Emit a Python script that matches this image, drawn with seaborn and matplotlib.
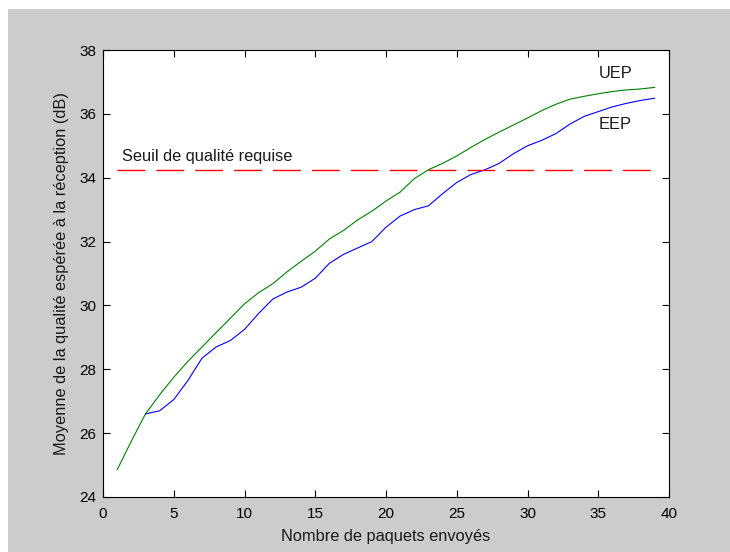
import matplotlib
matplotlib.use('Agg')
from matplotlib import pyplot as plt
from matplotlib.patches import Rectangle
import seaborn as sns

# Values
uep_x = [1, 2, 3, 4, 5, 6, 7, 8, 9, 10, 11, 12, 13, 14, 15, 16, 17, 18, 19, 20,
         21, 22, 23, 24, 25, 26, 27, 28, 29, 30, 31, 32, 33, 34, 35, 36, 37, 38, 39]
uep_y = [24.85, 25.75, 26.6, 27.2, 27.75, 28.25, 28.7, 29.15, 29.6, 30.05,
         30.4, 30.68, 31.05, 31.38, 31.7, 32.08, 32.35, 32.68, 32.95, 33.27,
         33.55, 33.97, 34.25, 34.45, 34.68, 34.95, 35.2, 35.43, 35.65, 35.87,
         36.1, 36.3, 36.46, 36.55, 36.63, 36.7, 36.75, 36.78, 36.83]

eep_x = [3, 4, 5, 6, 7, 8, 9, 10, 11, 12, 13, 14, 15, 16, 17, 18, 19, 20,
         21, 22, 23, 24, 25, 26, 27, 28, 29, 30, 31, 32, 33, 34, 35, 36, 37, 38, 39]
eep_y = [26.6, 26.7, 27.05, 27.65, 28.35, 28.7, 28.9, 29.25, 29.75, 30.2,
         30.42, 30.57, 30.85, 31.32, 31.6, 31.8, 32.0, 32.45, 32.8, 33.0,
         33.12, 33.5, 33.85, 34.1, 34.25, 34.45, 34.75, 35.0, 35.17, 35.38,
         35.68, 35.92, 36.07, 36.22, 36.33, 36.42, 36.49]

seuil_x = [1, 39]
seuil_y = [34.25, 34.25]

sns.set_style('ticks')
plt.rcParams['font.family'] = ['Liberation Sans', 'DejaVu Sans']
plt.rcParams['font.size'] = 10

fig = plt.figure(figsize=(7.3, 5.52), dpi=100, facecolor='white')
# grey figure area like the old matlab window (white strip top/left)
fig.patches.append(Rectangle((8 / 730, 0), 1, 1 - 9 / 552, transform=fig.transFigure,
                             facecolor='#cccccc', edgecolor='none', zorder=-10))

ax = fig.add_axes([103 / 730, 1 - 497 / 552, 566 / 730, 447 / 552])
ax.set_facecolor('white')

sns.lineplot(x=uep_x, y=uep_y, color='#008000', lw=0.8, ax=ax)
sns.lineplot(x=eep_x, y=eep_y, color='#0000ff', lw=0.8, ax=ax)
ax.plot(seuil_x, seuil_y, color='#ff0000', lw=1.0, ls=(0, (20, 8)))

txt_kw = dict(fontsize=11.8, color='#1a1a1a')
ax.text(1.35, 34.66, 'Seuil de qualité requise', va='center', **txt_kw)
ax.text(35.0, 37.27, 'UEP', va='center', **txt_kw)
ax.text(35.0, 35.67, 'EEP', va='center', **txt_kw)

ax.set_xlim(0, 40)
ax.set_ylim(24, 38)
ax.set_xticks(range(0, 41, 5))
ax.set_yticks(range(24, 39, 2))
ax.tick_params(direction='in', top=True, right=True, length=5, width=0.8,
               labelsize=11, colors='black')
ax.tick_params(axis='x', pad=7)
ax.tick_params(axis='y', pad=5)
for sp in ax.spines.values():
    sp.set_visible(True)
    sp.set_color('black')
    sp.set_linewidth(0.8)

ax.set_xlabel('Nombre de paquets envoyés', fontsize=11.8, labelpad=6, color='#1a1a1a')
ax.set_ylabel('Moyenne de la qualité espérée à la réception (dB)', fontsize=11.8,
              labelpad=7, color='#1a1a1a')

fig.savefig('out.png', dpi=100, facecolor=fig.get_facecolor())
